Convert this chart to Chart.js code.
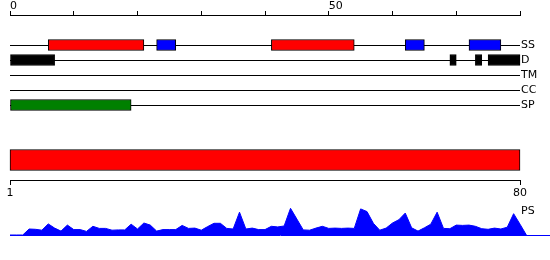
<!DOCTYPE html>
<html>
<head>
<meta charset="utf-8">
<script src="https://cdn.jsdelivr.net/npm/chart.js@4/dist/chart.umd.min.js"></script>
<style>
  html, body { margin: 0; padding: 0; background: #fff; width: 550px; height: 260px; overflow: hidden; }
  canvas { position: absolute; left: 0; }
  #tracks { top: 0; }
  #domain { top: 130px; }
  #ps { top: 195px; }
</style>
</head>
<body>
<canvas id="tracks" width="550" height="120"></canvas>
<canvas id="domain" width="550" height="80"></canvas>
<canvas id="ps" width="550" height="65"></canvas>
<script>
// ---- data ----
const seqLength = 80;
const trackNames = ['SS', 'D', 'TM', 'CC', 'SP'];
const topTickLabels = [0, 50];
const ssHelix = [[6, 21], [41, 54]];
const ssStrand = [[23, 26], [62, 65], [72, 77]];
const disorder = [[0, 7], [69, 70], [73, 74], [75, 80]];
const transmembrane = [];
const coiledCoil = [];
const signalPeptide = [[0, 19]];
const domainRange = [1, 80];
const domainTickLabels = [1, 80];
const psLabel = 'PS';
const psScores = [
  0, 0, 0, 0.20, 0.19, 0.16, 0.37, 0.23, 0.13, 0.33,
  0.18, 0.18, 0.12, 0.29, 0.22, 0.22, 0.16, 0.17, 0.17, 0.36,
  0.20, 0.40, 0.33, 0.13, 0.18, 0.18, 0.18, 0.32, 0.22, 0.23,
  0.16, 0.28, 0.39, 0.39, 0.22, 0.20, 0.76, 0.20, 0.23, 0.18,
  0.18, 0.29, 0.27, 0.30, 0.89, 0.53, 0.17, 0.16, 0.23, 0.29,
  0.22, 0.23, 0.22, 0.23, 0.22, 0.87, 0.78, 0.39, 0.16, 0.23,
  0.40, 0.51, 0.73, 0.24, 0.13, 0.24, 0.36, 0.76, 0.22, 0.21,
  0.33, 0.32, 0.33, 0.29, 0.21, 0.19, 0.23, 0.20, 0.26, 0.71,
  0.36, 0
];

Chart.defaults.font.family = 'DejaVu Sans';
Chart.defaults.font.size = 11;
Chart.defaults.color = '#000';

// ---- tracks chart ----
const spacerLabels = ['', ''];
const trackLabels = spacerLabels.concat(trackNames);
function seg(list, name) { return list.map(r => ({ x: r, y: name })); }
function barSet(points, color) {
  return {
    data: points,
    backgroundColor: color,
    borderColor: '#000',
    borderWidth: 1,
    borderSkipped: false,
    barThickness: 11,
    grouped: false,
    clip: false
  };
}
new Chart(document.getElementById('tracks'), {
  type: 'bar',
  data: {
    labels: trackLabels,
    datasets: [
      barSet(seg(ssHelix, 'SS'), '#ff0000'),
      barSet(seg(ssStrand, 'SS'), '#0000ff'),
      barSet(seg(disorder, 'D'), '#000000'),
      barSet(seg(transmembrane, 'TM'), '#ff00ff'),
      barSet(seg(coiledCoil, 'CC'), '#00ffff'),
      barSet(seg(signalPeptide, 'SP'), '#008000')
    ]
  },
  options: {
    indexAxis: 'y',
    responsive: false,
    animation: false,
    devicePixelRatio: 1,
    layout: { padding: { left: 10, right: 0, top: 0, bottom: 15 } },
    plugins: { legend: { display: false }, tooltip: { enabled: false } },
    scales: {
      x: {
        type: 'linear',
        position: 'top',
        min: 0,
        max: seqLength,
        ticks: {
          stepSize: 10,
          align: 'start',
          padding: -2,
          maxRotation: 0,
          autoSkip: false,
          callback: v => topTickLabels.includes(v) ? String(v) : ''
        },
        grid: { drawOnChartArea: false, tickLength: 4, color: '#000' },
        border: { color: '#000', width: 1 },
        afterFit: s => { s.height = 15; }
      },
      y: {
        type: 'category',
        position: 'right',
        offset: false,
        ticks: { padding: 1, autoSkip: false },
        grid: {
          offset: false,
          drawTicks: false,
          color: ctx => (ctx.tick && ctx.tick.label) ? '#000' : 'rgba(0,0,0,0)'
        },
        border: { display: false },
        afterFit: s => { s.width = 30; }
      }
    }
  }
});

// ---- domain chart ----
new Chart(document.getElementById('domain'), {
  type: 'bar',
  data: {
    labels: ['domain'],
    datasets: [{
      data: [domainRange],
      backgroundColor: '#ff0000',
      borderColor: '#000',
      borderWidth: 1,
      borderSkipped: false,
      barThickness: 21,
      clip: false
    }]
  },
  options: {
    indexAxis: 'y',
    responsive: false,
    animation: false,
    devicePixelRatio: 1,
    layout: { padding: { left: 10, right: 30, top: 10, bottom: 0 } },
    plugins: { legend: { display: false }, tooltip: { enabled: false } },
    scales: {
      x: {
        type: 'linear',
        position: 'bottom',
        min: domainTickLabels[0],
        max: domainTickLabels[domainTickLabels.length - 1],
        afterBuildTicks: s => { s.ticks = domainTickLabels.map(v => ({ value: v })); },
        ticks: { padding: 2, maxRotation: 0, autoSkip: false },
        grid: { drawOnChartArea: false, tickLength: 5, color: '#000' },
        border: { color: '#000', width: 1 },
        afterFit: s => { s.height = 30; }
      },
      y: { display: false }
    }
  }
});

// ---- PS chart ----
const psLabelPlugin = {
  id: 'psLabel',
  afterDraw(chart) {
    const { ctx, scales } = chart;
    ctx.save();
    ctx.font = '11px "DejaVu Sans"';
    ctx.fillStyle = '#000';
    ctx.textAlign = 'left';
    ctx.textBaseline = 'middle';
    ctx.fillText(psLabel, scales.x.getPixelForValue(seqLength) + 1, scales.y.getPixelForValue(0.8));
    ctx.restore();
  }
};
new Chart(document.getElementById('ps'), {
  type: 'line',
  data: {
    datasets: [{
      data: psScores.map((v, i) => ({ x: i, y: v })),
      borderColor: '#0000ff',
      backgroundColor: '#0000ff',
      borderWidth: 1,
      fill: 'origin',
      pointRadius: 0,
      tension: 0
    }]
  },
  options: {
    responsive: false,
    animation: false,
    devicePixelRatio: 1,
    layout: { padding: { left: 10, right: 0, top: 10, bottom: 25 } },
    plugins: { legend: { display: false }, tooltip: { enabled: false } },
    scales: {
      x: {
        type: 'linear',
        min: 0,
        max: 540 / 510 * seqLength,
        ticks: { display: false },
        grid: { display: false, drawTicks: false },
        border: { display: true, color: '#0000ff', width: 1 },
        afterFit: s => { s.height = 0; }
      },
      y: { display: false, min: 0, max: 1 }
    }
  },
  plugins: [psLabelPlugin]
});
</script>
</body>
</html>
